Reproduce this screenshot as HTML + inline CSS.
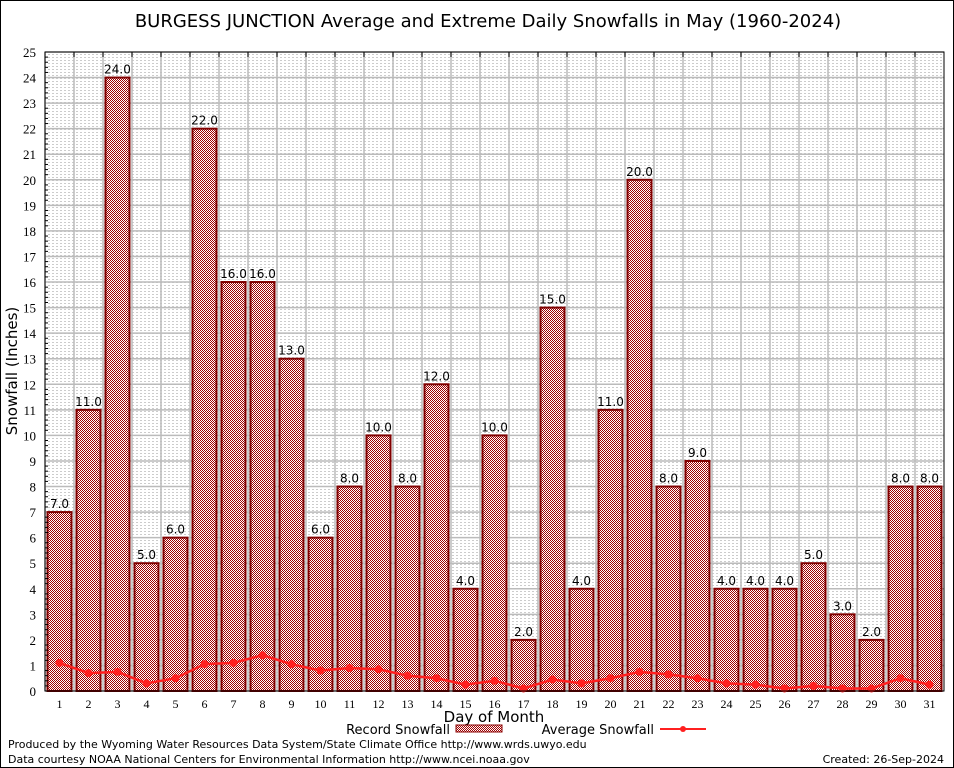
<!DOCTYPE html>
<html><head><meta charset="utf-8"><style>
body{margin:0;background:#fff;}
svg{display:block;font-family:"DejaVu Sans","Liberation Sans",sans-serif;}
</style></head><body>
<svg id="chart" width="954" height="768" viewBox="0 0 954 768" xmlns="http://www.w3.org/2000/svg">
<defs>
<pattern id="chk" width="2" height="2" patternUnits="userSpaceOnUse">
<rect width="2" height="2" fill="#fff"/><rect width="1" height="1" fill="#a00000"/><rect x="1" y="1" width="1" height="1" fill="#a00000"/>
</pattern>
<pattern id="dots" width="4" height="3" patternUnits="userSpaceOnUse">
<rect width="4" height="3" fill="#fff"/><rect width="2" height="1" fill="#ccc"/>
</pattern>
</defs>
<rect x="0.5" y="0.5" width="953" height="767" fill="#fff" stroke="#000"/>
<text x="488" y="27" font-size="18" text-anchor="middle">BURGESS JUNCTION Average and Extreme Daily Snowfalls in May (1960-2024)</text>
<rect x="45" y="52" width="899" height="639" fill="url(#dots)"/>
<g id="grid"></g>
<g id="bars"></g>
<g id="avg"></g>
<g id="axes"></g>
<text transform="translate(17,371) rotate(-90)" font-size="15" text-anchor="middle">Snowfall (Inches)</text>
<text x="494" y="722" font-size="15" text-anchor="middle">Day of Month</text>
<g>
<text x="450" y="734" font-size="13" text-anchor="end">Record Snowfall</text>
<rect x="456" y="725" width="46" height="7" fill="url(#chk)" stroke="#8b0000"/>
<text x="654" y="734" font-size="13" text-anchor="end">Average Snowfall</text>
<line x1="660" y1="729" x2="706" y2="729" stroke="#ff2020" stroke-width="2"/>
<circle cx="683" cy="729" r="3" fill="#ff2020"/>
</g>
<text x="8" y="748" font-size="11">Produced by the Wyoming Water Resources Data System/State Climate Office http://www.wrds.uwyo.edu</text>
<text x="8" y="763" font-size="11">Data courtesy NOAA National Centers for Environmental Information http://www.ncei.noaa.gov</text>
<text x="944" y="763" font-size="11" text-anchor="end">Created:  26-Sep-2024</text>
</svg>
<script>
const days=[1,2,3,4,5,6,7,8,9,10,11,12,13,14,15,16,17,18,19,20,21,22,23,24,25,26,27,28,29,30,31];
const recordSnow=[7,11,24,5,6,22,16,16,13,6,8,10,8,12,4,10,2,15,4,11,20,8,9,4,4,4,5,3,2,8,8];
const avgSnow=[1.1,0.7,0.75,0.3,0.5,1.05,1.1,1.4,1.05,0.8,0.9,0.85,0.6,0.5,0.25,0.4,0.1,0.45,0.3,0.5,0.75,0.65,0.5,0.3,0.25,0.1,0.2,0.1,0.1,0.5,0.25];
const yTicks=[0,1,2,3,4,5,6,7,8,9,10,11,12,13,14,15,16,17,18,19,20,21,22,23,24,25];
const NS="http://www.w3.org/2000/svg";
const L=45,R=944,T=52,B=691,yMax=25;
const slot=(R-L)/days.length;
const xC=d=>L+slot*(d-0.5);
const y=v=>B-(B-T)*v/yMax;
function mk(tag,attrs,parent){const e=document.createElementNS(NS,tag);for(const k in attrs)e.setAttribute(k,attrs[k]);parent.appendChild(e);return e;}
const grid=document.getElementById('grid'),bars=document.getElementById('bars'),avg=document.getElementById('avg'),axes=document.getElementById('axes');
yTicks.forEach(t=>{
 const g=mk('line',{x1:L,x2:R,y1:y(t),y2:y(t),stroke:'#bbb','stroke-width':1.5},grid);
 
 
 const tx=mk('text',{x:36,y:y(t)+5,'font-size':13,'text-anchor':'end','font-family':'Liberation Serif, serif'},axes);
 tx.textContent=t;
 
 
 for(let m=1;m<5&&t<yMax;m++){const mm=mk('line',{x1:L,x2:L+3,y1:y(t+m*0.2),y2:y(t+m*0.2),stroke:'#000'},axes);
 
 }
});
days.forEach((d,i)=>{
 const gx=L+slot*i;
 const gl=mk('line',{x1:gx,x2:gx,y1:T,y2:B,stroke:'#bbb','stroke-width':1.5},grid);
 
 
 const tk=mk('line',{x1:gx,x2:gx,y1:T,y2:T+5,stroke:'#000'},axes);
 
 
 const bw=24,v=recordSnow[i];
 const r=mk('rect',{x:xC(d)-bw/2,y:y(v),width:bw,height:B-y(v),fill:'url(#chk)',stroke:'#800000','stroke-width':2},bars);
 
 
 const lb=mk('text',{x:xC(d),y:y(v)-4,'font-size':12,'text-anchor':'middle'},bars);
 lb.textContent=v.toFixed(1);
 
 
 const xl=mk('text',{x:xC(d),y:708,'font-size':12,'text-anchor':'middle','font-family':'Liberation Serif, serif'},axes);
 xl.textContent=d;
 
 
});
const pts=days.map((d,i)=>xC(d)+','+y(avgSnow[i])).join(' ');
const pl=mk('polyline',{points:pts,fill:'none',stroke:'#ff2020','stroke-width':2.5},avg);


days.forEach((d,i)=>{const c=mk('circle',{cx:xC(d),cy:y(avgSnow[i]),r:4,fill:'#ff2020'},avg);
 
 });
const fr=mk('rect',{x:L,y:T,width:R-L,height:B-T,fill:'none',stroke:'#000'},axes);


</script>
</body></html>
